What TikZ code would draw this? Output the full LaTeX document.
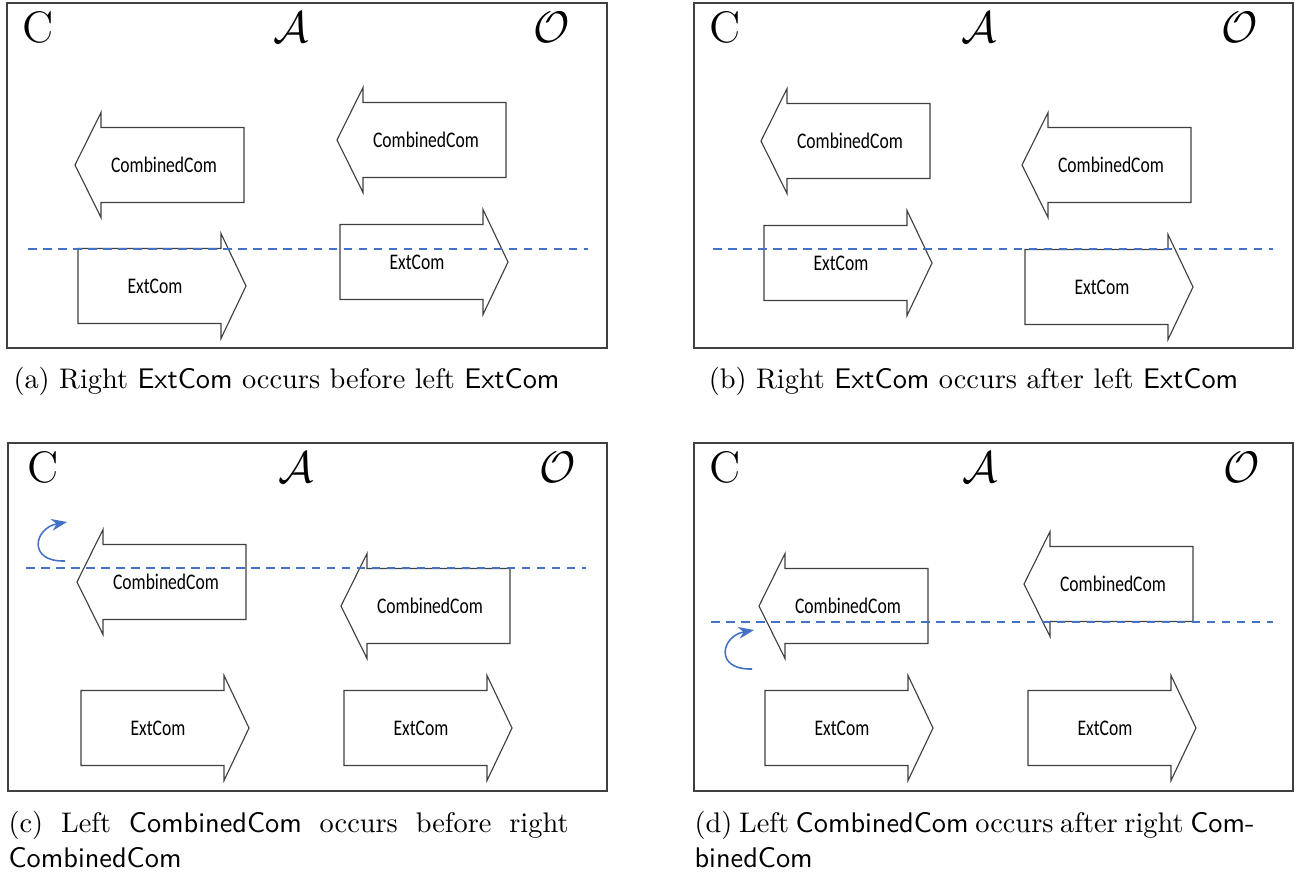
\documentclass[tikz,border=0pt]{standalone}
\usepackage{fontspec}
\usepackage{graphicx}
\usetikzlibrary{arrows.meta}
\newfontfamily\carlito{Carlito}
\definecolor{dashblue}{HTML}{4472C4}
\definecolor{framegray}{HTML}{404040}
\newcommand\arrtxt[1]{\scalebox{1}[1.27]{#1}}
\newcommand\bigsym[1]{\scalebox{1.08}{\Large #1}}
% left-pointing arrow: name, tip x, tip y, text
\newcommand\leftarrowbox[4]{%
  \draw[arrline] (#2,#3) -- ++(26,-52.5) -- ++(0,15) -- ++(143,0) -- ++(0,75) -- ++(-143,0) -- ++(0,15) -- cycle;
  \node[lbl] (#1) at ({#2+89},#3) {\arrtxt{#4}};}
% right-pointing arrow: name, tip x, tip y, text
\newcommand\rightarrowbox[4]{%
  \draw[arrline] (#2,#3) -- ++(-25,-52.5) -- ++(0,15) -- ++(-143,0) -- ++(0,75) -- ++(143,0) -- ++(0,15) -- cycle;
  \node[lbl] (#1) at ({#2-91},#3) {\arrtxt{#4}};}
\tikzset{
  frame/.style={draw=framegray, line width=0.5pt},
  arrline/.style={draw=black!75, line width=0.4pt, line join=miter},
  lbl/.style={font=\carlito\fontsize{6.2}{7}\selectfont, inner sep=0pt},
  dashline/.style={draw=dashblue, line width=0.85pt, dash pattern=on 3pt off 2.3pt},
  curvearrow/.style={draw=dashblue, line width=0.55pt, -{Stealth[length=5.5pt,width=4.2pt]}},
  sym/.style={anchor=base, inner sep=0pt},
  captext/.style={anchor=base, inner sep=0pt, font=\normalsize},
  captextw/.style={anchor=base west, inner sep=0pt, font=\normalsize},
}
\begin{document}
\begin{tikzpicture}[x=0.3527pt, y=-0.3527pt]
\useasboundingbox (0,0) rectangle (1297,875);
% ---------- panel (a)
\draw[frame] (7,3) rectangle (607,348);
\node[sym] (Ca) at (38,42.5) {\bigsym{C}};
\node[sym] (Aa) at (291,42.5) {\bigsym{$\mathcal{A}$}};
\node[sym] (Oa) at (552,42.5) {\bigsym{$\mathcal{O}$}};
\leftarrowbox{ca1}{75}{165}{CombinedCom}
\leftarrowbox{ca2}{337}{140}{CombinedCom}
\rightarrowbox{ea1}{246}{286}{ExtCom}
\rightarrowbox{ea2}{508}{262}{ExtCom}
\coordinate (dla) at (28,249);
\coordinate (dra) at (588,249);
\draw[dashline] (dla) -- (dra);
\node[captext] (capa) at (286.5,388) {(a) Right \textsf{ExtCom} occurs before left \textsf{ExtCom}};
% ---------- panel (b)
\draw[frame] (694,3) rectangle (1293,348);
\node[sym] (Cb) at (725,42.5) {\bigsym{C}};
\node[sym] (Ab) at (979,42.5) {\bigsym{$\mathcal{A}$}};
\node[sym] (Ob) at (1240,42.5) {\bigsym{$\mathcal{O}$}};
\leftarrowbox{cb1}{761}{141}{CombinedCom}
\leftarrowbox{cb2}{1022}{165}{CombinedCom}
\rightarrowbox{eb1}{932}{263}{ExtCom}
\rightarrowbox{eb2}{1193}{287}{ExtCom}
\coordinate (dlb) at (713,249);
\coordinate (drb) at (1273,249);
\draw[dashline] (dlb) -- (drb);
\node[captext] (capb) at (973.5,388) {(b) Right \textsf{ExtCom} occurs after left \textsf{ExtCom}};
% ---------- panel (c)
\draw[frame] (8,443) rectangle (607,791);
\node[sym] (Cc) at (43,482.5) {\bigsym{C}};
\node[sym] (Ac) at (296,482.5) {\bigsym{$\mathcal{A}$}};
\node[sym] (Oc) at (558,482.5) {\bigsym{$\mathcal{O}$}};
\leftarrowbox{cc1}{77}{582}{CombinedCom}
\leftarrowbox{cc2}{341}{606}{CombinedCom}
\rightarrowbox{ec1}{249}{728}{ExtCom}
\rightarrowbox{ec2}{512}{728}{ExtCom}
\coordinate (dlc) at (26,568);
\coordinate (drc) at (586,568);
\draw[dashline] (dlc) -- (drc);
\coordinate (rsc) at (65,561);
\coordinate (rec) at (67,522);
\draw[curvearrow] (rsc) .. controls (27,562) and (34,528) .. (rec);
\node[captextw] (capc1) at (8,832) {\hbox to 197.5pt{(c) Left \textsf{CombinedCom} occurs before right}};
\node[captextw] (capc2) at (8,867) {\textsf{CombinedCom}};
% ---------- panel (d)
\draw[frame] (694,443) rectangle (1293,791);
\node[sym] (Cd) at (725,482.5) {\bigsym{C}};
\node[sym] (Ad) at (980,482.5) {\bigsym{$\mathcal{A}$}};
\node[sym] (Od) at (1242,482.5) {\bigsym{$\mathcal{O}$}};
\leftarrowbox{cd1}{759}{606}{CombinedCom}
\leftarrowbox{cd2}{1024}{584}{CombinedCom}
\rightarrowbox{ed1}{933}{728}{ExtCom}
\rightarrowbox{ed2}{1196}{728}{ExtCom}
\coordinate (dld) at (711,622);
\coordinate (drd) at (1273,622);
\draw[dashline] (dld) -- (drd);
\coordinate (rsd) at (752,669);
\coordinate (red) at (754,630);
\draw[curvearrow] (rsd) .. controls (714,670) and (721,636) .. (red);
\node[captextw] (capd1) at (694,832) {\hbox to 197.5pt{(d) Left \textsf{CombinedCom} occurs after right \textsf{Com-}}};
\node[captextw] (capd2) at (694,867) {\textsf{binedCom}};
\end{tikzpicture}
\end{document}
